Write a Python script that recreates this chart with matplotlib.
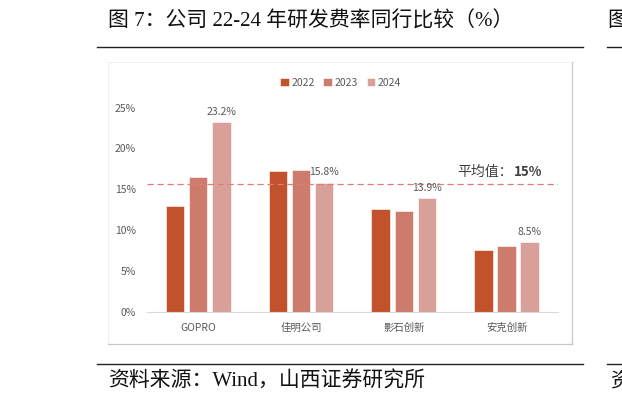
import matplotlib
matplotlib.use("Agg")
import matplotlib.pyplot as plt
import numpy as np
from matplotlib.patches import Rectangle
from matplotlib.lines import Line2D

plt.rcParams['font.family'] = ['Noto Sans CJK SC', 'DejaVu Sans']

# data
companies = ["GOPRO", "佳明公司", "影石创新", "安克创新"]
years = ["2022", "2023", "2024"]
rate_2022 = [12.9, 17.2, 12.6, 7.6]
rate_2023 = [16.5, 17.4, 12.3, 8.1]
rate_2024 = [23.2, 15.8, 13.9, 8.5]
avg_value = 15.6
avg_label = "15%"

colors = ["#C2522C", "#CC7B6C", "#D9A09A"]

W, H = 622, 408
fig = plt.figure(figsize=(W / 100, H / 100), dpi=100)

def fx(px):
    return px / W

def fy(py):
    return 1 - py / H

serif_cjk = ['Liberation Serif', 'Noto Sans CJK SC']

# title and source rules
fig.text(fx(108), fy(22), "图 7：公司 22-24 年研发费率同行比较（%）", fontsize=15,
         family=serif_cjk, va='center', ha='left', color='#111111')
fig.text(fx(607), fy(22), "图", fontsize=15, family=serif_cjk, va='center', ha='left', color='#111111')
for y in (47, 364):
    fig.add_artist(Line2D([fx(97), fx(583)], [fy(y), fy(y)], color='#222222', lw=1.0))
    fig.add_artist(Line2D([fx(607), fx(622)], [fy(y), fy(y)], color='#222222', lw=1.0))
fig.text(fx(108), fy(382), "资料来源：Wind，山西证券研究所", fontsize=15,
         family=serif_cjk, va='center', ha='left', color='#111111')
fig.text(fx(610), fy(382), "资", fontsize=15, family=serif_cjk, va='center', ha='left', color='#111111')

# chart panel frame
fig.add_artist(Rectangle((fx(108), fy(344)), fx(572) - fx(108), fy(62) - fy(344),
                         fill=False, edgecolor='#F0F0F0', lw=0.8))
fig.add_artist(Line2D([fx(572), fx(572)], [fy(62), fy(344)], color='#C8C8C8', lw=0.9))
fig.add_artist(Line2D([fx(108), fx(572)], [fy(344), fy(344)], color='#C8C8C8', lw=0.9))

ax = fig.add_axes([fx(146.7), fy(311.7), fx(558) - fx(146.7), fy(107.7) - fy(311.7)])

x = np.arange(len(companies))
step = 0.225
width = 0.18
series = [rate_2022, rate_2023, rate_2024]
bars = []
for i, (vals, c, yr) in enumerate(zip(series, colors, years)):
    b = ax.bar(x + (i - 1) * step, vals, width, color=c, edgecolor='white', linewidth=0.4, label=yr)
    bars.append(b)

# only the 2024 bars carry value labels
for rect, v in zip(bars[2], rate_2024):
    ax.annotate(f"{v:.1f}%", (rect.get_x() + rect.get_width() / 2, v), xytext=(0, 4),
                textcoords='offset points', ha='center', va='bottom', fontsize=7.5, color='#595959')

ax.axhline(avg_value, color='#E07B76', lw=0.9, ls=(0, (5, 3)))
ax.text(3.063, 17.1, "平均值：", fontsize=10, color='#404040', ha='right', va='center')
ax.text(3.07, 17.1, avg_label, fontsize=9.5, color='#404040', ha='left', va='center', weight='bold')

ax.set_xlim(-0.5, 3.5)
ax.set_ylim(0, 25)
ax.set_yticks([0, 5, 10, 15, 20, 25])
ax.set_yticklabels([f"{t}%" for t in [0, 5, 10, 15, 20, 25]])
ax.set_xticks(x)
ax.set_xticklabels(companies)
ax.tick_params(axis='both', length=0, labelsize=7.5, colors='#595959')
ax.tick_params(axis='y', pad=8)
ax.tick_params(axis='x', pad=8)
for s in ('top', 'right', 'left'):
    ax.spines[s].set_visible(False)
ax.spines['bottom'].set_color('#D9D9D9')
ax.patch.set_alpha(0)

ax.legend(loc='center', bbox_to_anchor=(0.472, 1.121), ncol=3, frameon=False, fontsize=7.5,
          handlelength=0.8, handleheight=0.8, handletextpad=0.3, columnspacing=0.8,
          labelcolor='#595959')

fig.savefig("out.png", dpi=100)
